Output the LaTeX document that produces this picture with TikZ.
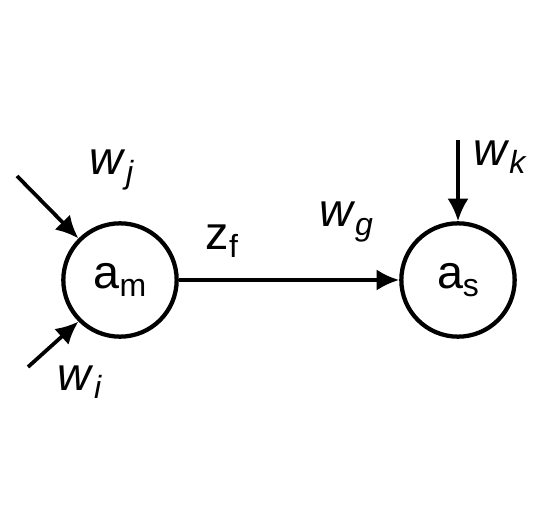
\documentclass[tikz,border=0pt]{standalone}
\usepackage{fontspec}
\setmainfont{Liberation Sans}
\usetikzlibrary{arrows.meta}
\newcommand{\wsub}[2]{\textit{#1}\raisebox{-0.35ex}{\fontsize{24}{26}\selectfont\textit{#2}}}
\newcommand{\asub}[2]{#1\raisebox{-0.3ex}{\fontsize{24}{26}\selectfont #2}}
\begin{document}
\begin{tikzpicture}[x=0.75pt,y=-0.75pt,>={Latex[length=17pt,width=16pt]}]
\tikzset{
  unit/.style={draw,circle,line width=3.2pt,minimum size=85pt,inner sep=0pt,font=\fontsize{35}{38}\selectfont},
  weight/.style={font=\fontsize{35}{38}\selectfont,inner sep=0pt},
  link/.style={->,line width=2.8pt}
}
\useasboundingbox (0,0) rectangle (546,509);
\node[unit] (am) at (120,280) {\asub{a}{m}};
\node[unit] (as) at (458,280) {\asub{a}{s}};
\coordinate (jin) at (17,176);
\coordinate (iin) at (28,367);
\coordinate (kin) at (458,140);
\draw[link] (am) -- (as);
\draw[link] (jin) -- (am.north west);
\draw[link] (iin) -- (am.south west);
\draw[link] (kin) -- (as.north);
\node[weight] (wj) at (112,170) {\wsub{w}{j}};
\node[weight] (wi) at (80,382) {\wsub{w}{i}};
\node[weight] (zf) at (222,241) {\asub{z}{f}};
\node[weight] (wg) at (346,222) {\wsub{w}{g}};
\node[weight] (wk) at (500,157) {\wsub{w}{k}};
\end{tikzpicture}
\end{document}
